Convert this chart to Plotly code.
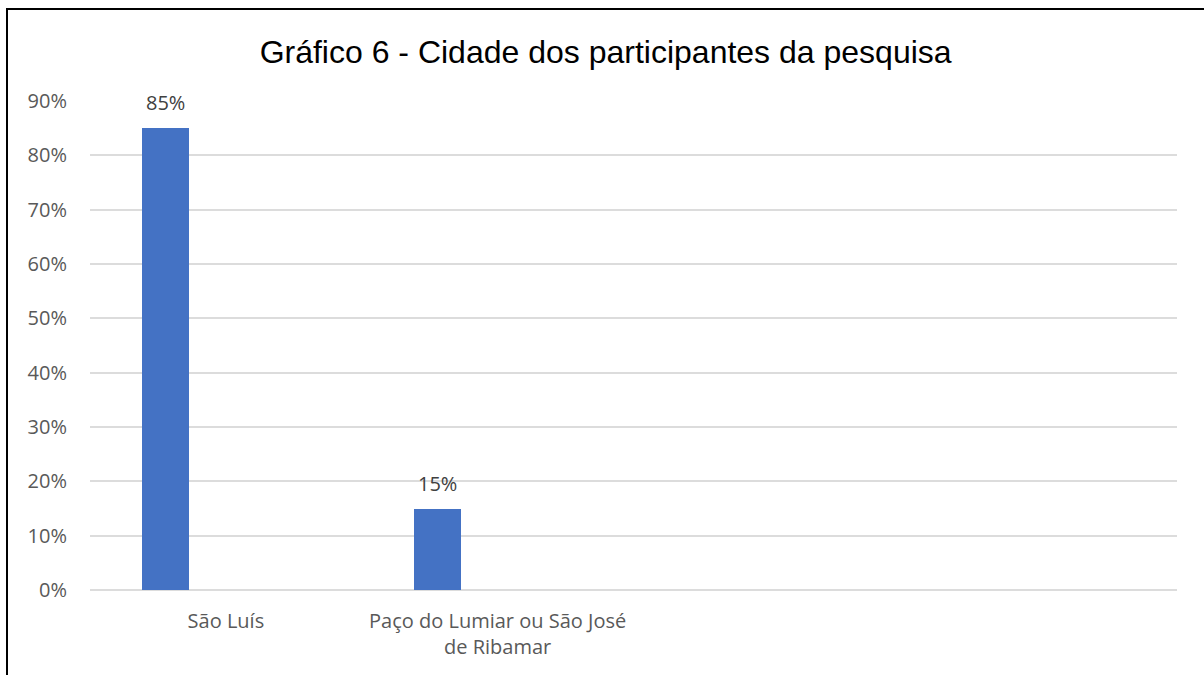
import plotly.graph_objects as go

categories = ["São Luís", "Paço do Lumiar ou São José<br>de Ribamar"]
values = [0.85, 0.15]
value_labels = ["85%", "15%"]
y_ticks = [0, 0.1, 0.2, 0.3, 0.4, 0.5, 0.6, 0.7, 0.8, 0.9]

FONT_FAMILY = "Open Sans, Lato, sans-serif"
TICK_FONT = dict(family=FONT_FAMILY, size=20, color="#595959")

fig = go.Figure()
fig.add_trace(go.Bar(
    x=categories, y=values,
    marker=dict(color="#4472C4", line=dict(width=0)),
    width=0.173, offset=-0.309,
    hoverinfo="skip",
))

for c, v, t in zip(categories, values, value_labels):
    fig.add_annotation(
        x=c, y=v, xref="x", yref="y", text=t, showarrow=False,
        xshift=-60.5, yshift=10, yanchor="bottom",
        font=dict(family=FONT_FAMILY, size=20, color="#404040"),
    )

fig.update_layout(
    width=1204, height=675,
    margin=dict(l=90, r=27, t=101, b=85),
    paper_bgcolor="white", plot_bgcolor="white",
    showlegend=False,
    bargap=0,
    title=dict(
        text="Gráfico 6 - Cidade dos participantes da pesquisa",
        font=dict(family="Liberation Sans, Arial, sans-serif", size=32, color="#000000"),
        x=0.503, xref="container", xanchor="center",
        y=1 - 52 / 675, yref="container", yanchor="middle",
    ),
    xaxis=dict(
        type="category", categoryorder="array", categoryarray=categories,
        range=[-0.5, 3.5], showgrid=False, showline=False, zeroline=False,
        ticks="", tickfont=TICK_FONT, ticklabelstandoff=17,
    ),
    yaxis=dict(
        range=[0, 0.9], tickvals=y_ticks, tickformat=".0%",
        showgrid=True, gridcolor="#dcdcdc", gridwidth=2,
        zeroline=True, zerolinecolor="#dcdcdc", zerolinewidth=2,
        showline=False, ticks="", tickfont=TICK_FONT, ticklabelstandoff=22,
    ),
    shapes=[dict(
        type="rect", xref="paper", yref="paper",
        x0=(7 - 90) / 1087, x1=1.2, y0=-0.3, y1=(590 - 9) / 489,
        line=dict(color="#000000", width=2), fillcolor="rgba(0,0,0,0)",
        layer="above",
    )],
)

fig.write_html(
    "out.html",
    config={"displayModeBar": False, "staticPlot": True},
    post_script="document.body.style.margin='0';document.body.style.overflow='hidden';",
)
